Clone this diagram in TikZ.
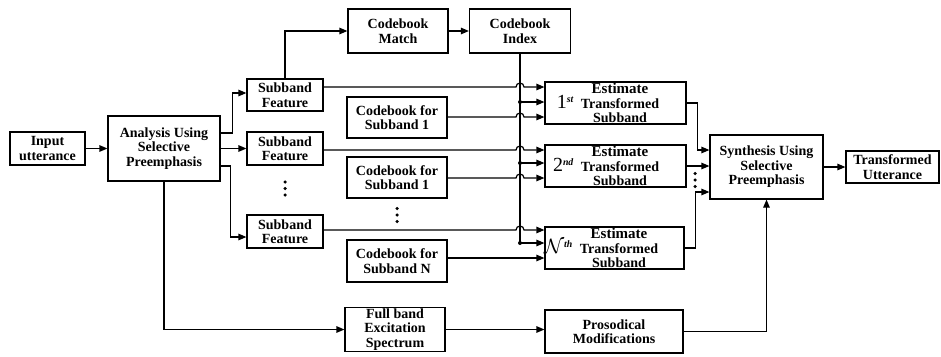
\documentclass[tikz,border=0pt]{standalone}
\usepackage{fontspec}
\setmainfont{Liberation Serif}
\usetikzlibrary{arrows.meta,calc}
\newcommand\estlines[1]{\fontsize{15}{14.5}\selectfont\hspace*{9pt}Estimate\\\hspace*{9pt}\llap{#1\hspace{7pt}}Transformed\\\hspace*{9pt}Subband}
\begin{document}
\begin{tikzpicture}[x=1pt,y=-1pt,
  box/.style={draw,line width=1.2pt,inner sep=1pt,align=center,
    font=\bfseries\fontsize{14}{14.5}\selectfont},
  conn/.style={line width=1.2pt},
  arr/.style={conn,-{Triangle[length=8pt,width=6.5pt]}},
  jdot/.style={fill,circle,inner sep=0pt,minimum size=4pt},
  sdot/.style={fill,circle,inner sep=0pt,minimum size=3.5pt}]
\useasboundingbox (0,0) rectangle (941,356);

% nodes
\node[box,minimum width=75pt,minimum height=33pt] (inp) at (47.5,148.5) {Input\\utterance};
\node[box,minimum width=112pt,minimum height=65pt] (ana) at (164,148.5) {Analysis Using\\Selective\\Preemphasis};
\node[box,minimum width=76pt,minimum height=32pt] (sf1) at (285,95) {Subband\\Feature};
\node[box,minimum width=76pt,minimum height=33pt] (sf2) at (285,148.5) {Subband\\Feature};
\node[box,minimum width=76pt,minimum height=33pt] (sf3) at (285,231.5) {Subband\\Feature};
\node[box,minimum width=100pt,minimum height=44pt] (cbm) at (398,31) {Codebook\\Match};
\node[box,minimum width=101pt,minimum height=44pt] (cbi) at (520,31) {Codebook\\Index};
\node[box,minimum width=100pt,minimum height=41pt] (cb1) at (397,117.5) {Codebook for\\Subband 1};
\node[box,minimum width=100pt,minimum height=41pt] (cb2) at (397,177.5) {Codebook for\\Subband 1};
\node[box,minimum width=100pt,minimum height=42pt] (cbn) at (397,261) {Codebook for\\Subband N};
\node[box,minimum width=100pt,minimum height=41pt] (fb) at (395,329.5) {Full band\\Excitation\\Spectrum};
\node[box,minimum width=141pt,minimum height=42pt] (e1) at (615.5,103)
  {\estlines{{\mdseries\fontsize{20}{20}\selectfont 1}\textsuperscript{\itshape st}}};
\node[box,minimum width=141pt,minimum height=42pt] (e2) at (615.5,166)
  {\estlines{{\mdseries\fontsize{20}{20}\selectfont 2}\textsuperscript{\itshape nd}}};
\node[box,minimum width=139pt,minimum height=42pt] (en) at (614.5,248)
  {\estlines{{\fontsize{20}{20}\selectfont$\mathcal{N}$}\textsuperscript{\itshape th}}};
\node[box,minimum width=138pt,minimum height=43pt] (pm) at (614,331.5) {Prosodical\\Modifications};
\node[box,minimum width=113pt,minimum height=64pt] (syn) at (766.5,167) {Synthesis Using\\Selective\\Preemphasis};
\node[box,minimum width=93pt,minimum height=32pt] (tu) at (892.5,167) {Transformed\\Utterance};

% helper coordinates
\coordinate (bus) at (cbi.south);
\coordinate (e1a) at ([yshift=16pt]e1.west);
\coordinate (e1b) at ([yshift=1pt]e1.west);
\coordinate (e1c) at ([yshift=-14pt]e1.west);
\coordinate (e2a) at ([yshift=16pt]e2.west);
\coordinate (e2b) at ([yshift=3pt]e2.west);
\coordinate (e2c) at ([yshift=-12pt]e2.west);
\coordinate (ena) at ([yshift=18pt]en.west);
\coordinate (enb) at ([yshift=5pt]en.west);
\coordinate (enc) at ([yshift=-10pt]en.west);

% left part
\draw[arr] (inp.east) -- (ana.west);
\coordinate (a1) at ([yshift=15.5pt]ana.east);
\coordinate (a3) at ([yshift=-17.5pt]ana.east);
\draw[arr] (a1) -- ++(12,0) |- ([yshift=2pt]sf1.west);
\draw[arr] (ana.east) -- (sf2.west);
\draw[arr] (a3) -- ++(10,0) |- ([yshift=-5.5pt]sf3.west);
\draw[arr] (ana.south) |- (fb.west);
\draw[arr] (sf1.north) |- (cbm.west);
\draw[arr] (cbm.east) -- (cbi.west);

% bus
\draw[conn] (bus) -- (bus |- enb);
\foreach \r in {e1b,e2b,enb}{
  \node[jdot] at (bus |- \r) {};
  \draw[arr] (bus |- \r) -- (\r);
}
% hopping lines
\draw[arr] (sf1.east |- e1a) -- ($(bus |- e1a)+(-4,0)$) arc[start angle=180,end angle=0,radius=4pt] -- (e1a);
\draw[arr] (cb1.east |- e1c) -- ($(bus |- e1c)+(-4,0)$) arc[start angle=180,end angle=0,radius=4pt] -- (e1c);
\draw[arr] (sf2.east |- e2a) -- ($(bus |- e2a)+(-4,0)$) arc[start angle=180,end angle=0,radius=4pt] -- (e2a);
\draw[arr] (cb2.east |- e2c) -- ($(bus |- e2c)+(-4,0)$) arc[start angle=180,end angle=0,radius=4pt] -- (e2c);
\draw[arr] (sf3.east |- ena) -- ($(bus |- ena)+(-4,0)$) arc[start angle=180,end angle=0,radius=4pt] -- (ena);
\draw[arr] (cbn.east |- enc) -- (enc);

% to synthesis
\draw[arr] (e1.east) -- ++(11,0) |- ([yshift=17pt]syn.west);
\draw[arr] (e2.east) -- (e2.east -| syn.west);
\draw[arr] (en.east) -- ++(11,0) |- ([yshift=-25pt]syn.west);
\draw[arr] (syn.east) -- (tu.west);
\draw[arr] (pm.east) -| (syn.south);
\draw[arr] (fb.east) -- (fb.east -| pm.west);

% ellipsis dots
\foreach \d in {-6.5,0,6.5}{
  \node[sdot] at ($(285,188.5)+(0,\d)$) {};
  \node[sdot] at ($(397,215)+(0,\d)$) {};
  \node[sdot] at ($(695,180)+(0,\d)$) {};
}
\end{tikzpicture}
\end{document}
